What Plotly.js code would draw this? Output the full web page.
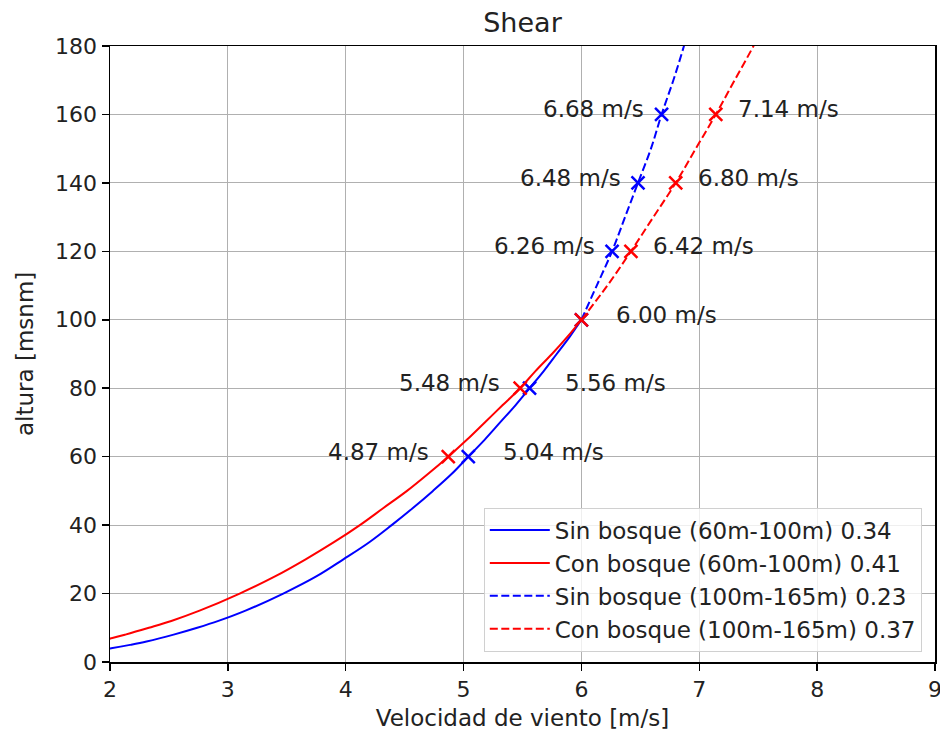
<!DOCTYPE html>
<html>
<head>
<meta charset="utf-8">
<script src="https://cdn.plot.ly/plotly-3.0.1.min.js"></script>
<style>html,body{margin:0;padding:0;background:#fff;}#chart{width:940px;height:731px;}</style>
</head>
<body>
<div id="chart"></div>
<script>
// Curve readings (height in m, speed in m/s)
const sinLowZ = [3, 4, 5, 6, 8, 10, 12, 15, 20, 25, 30, 35, 40, 45, 50, 55, 60, 65, 70, 75, 80, 85, 90, 95, 100];
const sinLowV = [1.82, 2.01, 2.17, 2.31, 2.54, 2.74, 2.92, 3.15, 3.47, 3.75, 3.98, 4.20, 4.39, 4.57, 4.74, 4.90, 5.04, 5.18, 5.31, 5.44, 5.56, 5.68, 5.79, 5.90, 6.00];
const conLowZ = [3, 5, 7, 8, 10, 12, 15, 20, 25, 30, 35, 40, 45, 50, 55, 60, 65, 70, 75, 80, 85, 90, 95, 100];
const conLowV = [1.43, 1.76, 2.02, 2.13, 2.33, 2.52, 2.76, 3.10, 3.40, 3.66, 3.90, 4.12, 4.32, 4.52, 4.70, 4.87, 5.03, 5.18, 5.33, 5.48, 5.61, 5.75, 5.88, 6.00];
const sinHighZ = [100, 110, 120, 130, 140, 150, 160, 170, 180, 190];
const sinHighV = [6.00, 6.13, 6.26, 6.37, 6.48, 6.59, 6.68, 6.78, 6.87, 6.95];
const conHighZ = [100, 110, 120, 130, 140, 150, 160, 170, 180, 190];
const conHighV = [6.00, 6.22, 6.42, 6.61, 6.80, 6.97, 7.14, 7.30, 7.46, 7.61];

// Marked points
const markZ = [60, 80, 100, 120, 140, 160];
const sinMarkV = [5.04, 5.56, 6.00, 6.26, 6.48, 6.68];
const conMarkV = [4.87, 5.48, 6.00, 6.42, 6.80, 7.14];

const legendNames = [
  "Sin bosque (60m-100m) 0.34",
  "Con bosque (60m-100m) 0.41",
  "Sin bosque (100m-165m) 0.23",
  "Con bosque (100m-165m) 0.37"
];
const xTitle = "Velocidad de viento [m/s]";
const yTitle = "altura [msnm]";
const chartTitle = "Shear";

const BLUE = "#0000ff", RED = "#ff0000";
const FONT = "DejaVu Sans, sans-serif";
const FS = 23;

const traces = [
  {x: sinLowV, y: sinLowZ, mode: "lines", name: legendNames[0], line: {color: BLUE, width: 2, shape: "spline", smoothing: 1}},
  {x: conLowV, y: conLowZ, mode: "lines", name: legendNames[1], line: {color: RED, width: 2, shape: "spline", smoothing: 1}},
  {x: sinHighV, y: sinHighZ, mode: "lines", name: legendNames[2], line: {color: BLUE, width: 2, dash: "8px,3.5px", shape: "spline", smoothing: 1}},
  {x: conHighV, y: conHighZ, mode: "lines", name: legendNames[3], line: {color: RED, width: 2, dash: "8px,3.5px", shape: "spline", smoothing: 1}},
  {x: sinMarkV, y: markZ, mode: "markers", showlegend: false, hoverinfo: "skip",
   marker: {symbol: "x-thin-open", size: 13, color: BLUE, line: {color: BLUE, width: 2.5}}},
  {x: conMarkV, y: markZ, mode: "markers", showlegend: false, hoverinfo: "skip",
   marker: {symbol: "x-thin-open", size: 13, color: RED, line: {color: RED, width: 2.5}}}
];

// label placement: side per point (R = right of point, L = left, none = no label)
const sinSide = ["R", "R", "R", "L", "L", "L"];
const conSide = ["L", "L", "", "R", "R", "R"];
const annotations = [];
function addLabels(vals, sides, rOff, lOff) {
  vals.forEach((v, i) => {
    if (!sides[i]) return;
    const right = sides[i] === "R";
    annotations.push({
      x: right ? v + rOff : v - lOff, y: markZ[i] + 1.5, xref: "x", yref: "y",
      text: v.toFixed(2) + " m/s", showarrow: false,
      xanchor: right ? "left" : "right", yanchor: "middle",
      font: {family: FONT, size: FS, color: "#222"}
    });
  });
}
addLabels(sinMarkV, sinSide, 0.28, 0.13);
addLabels(conMarkV, conSide, 0.17, 0.15);

// y-axis title placed as rotated text left of the tick labels
annotations.push({
  text: yTitle, xref: "paper", yref: "paper", x: -85/825, y: 0.5,
  xanchor: "center", yanchor: "middle", textangle: -90, showarrow: false,
  font: {family: FONT, size: FS, color: "#222"}
});

const axisCommon = {
  showgrid: true, gridcolor: "#b0b0b0", gridwidth: 1,
  showline: true, linecolor: "#000", linewidth: 1.5, mirror: true,
  ticks: "outside", ticklen: 7, tickwidth: 1.5, tickcolor: "#000",
  tickfont: {family: FONT, size: 22, color: "#222"},
  ticklabeloverflow: "allow",
  zeroline: false
};

const layout = {
  width: 940, height: 731,
  margin: {l: 110, r: 5, t: 46, b: 69},
  paper_bgcolor: "#fff", plot_bgcolor: "#fff",
  title: {text: chartTitle, font: {family: FONT, size: 27, color: "#222"}, x: 0.5, xref: "paper", y: 1 - 23/731, yanchor: "middle"},
  xaxis: Object.assign({}, axisCommon, {range: [2, 9], dtick: 1, tick0: 0,
    title: {text: xTitle, font: {family: FONT, size: FS, color: "#222"}, standoff: 9}}),
  yaxis: Object.assign({}, axisCommon, {range: [0, 180], dtick: 20, tick0: 0}),
  legend: {x: 0.984, xanchor: "right", y: 0.017, yanchor: "bottom",
    bgcolor: "rgba(255,255,255,0.8)", bordercolor: "#d0d0d0", borderwidth: 1,
    itemwidth: 60, tracegroupgap: 0,
    font: {family: FONT, size: FS, color: "#222"}},
  annotations: annotations,
  showlegend: true
};

Plotly.newPlot("chart", traces, layout, {staticPlot: true});
</script>
</body>
</html>
